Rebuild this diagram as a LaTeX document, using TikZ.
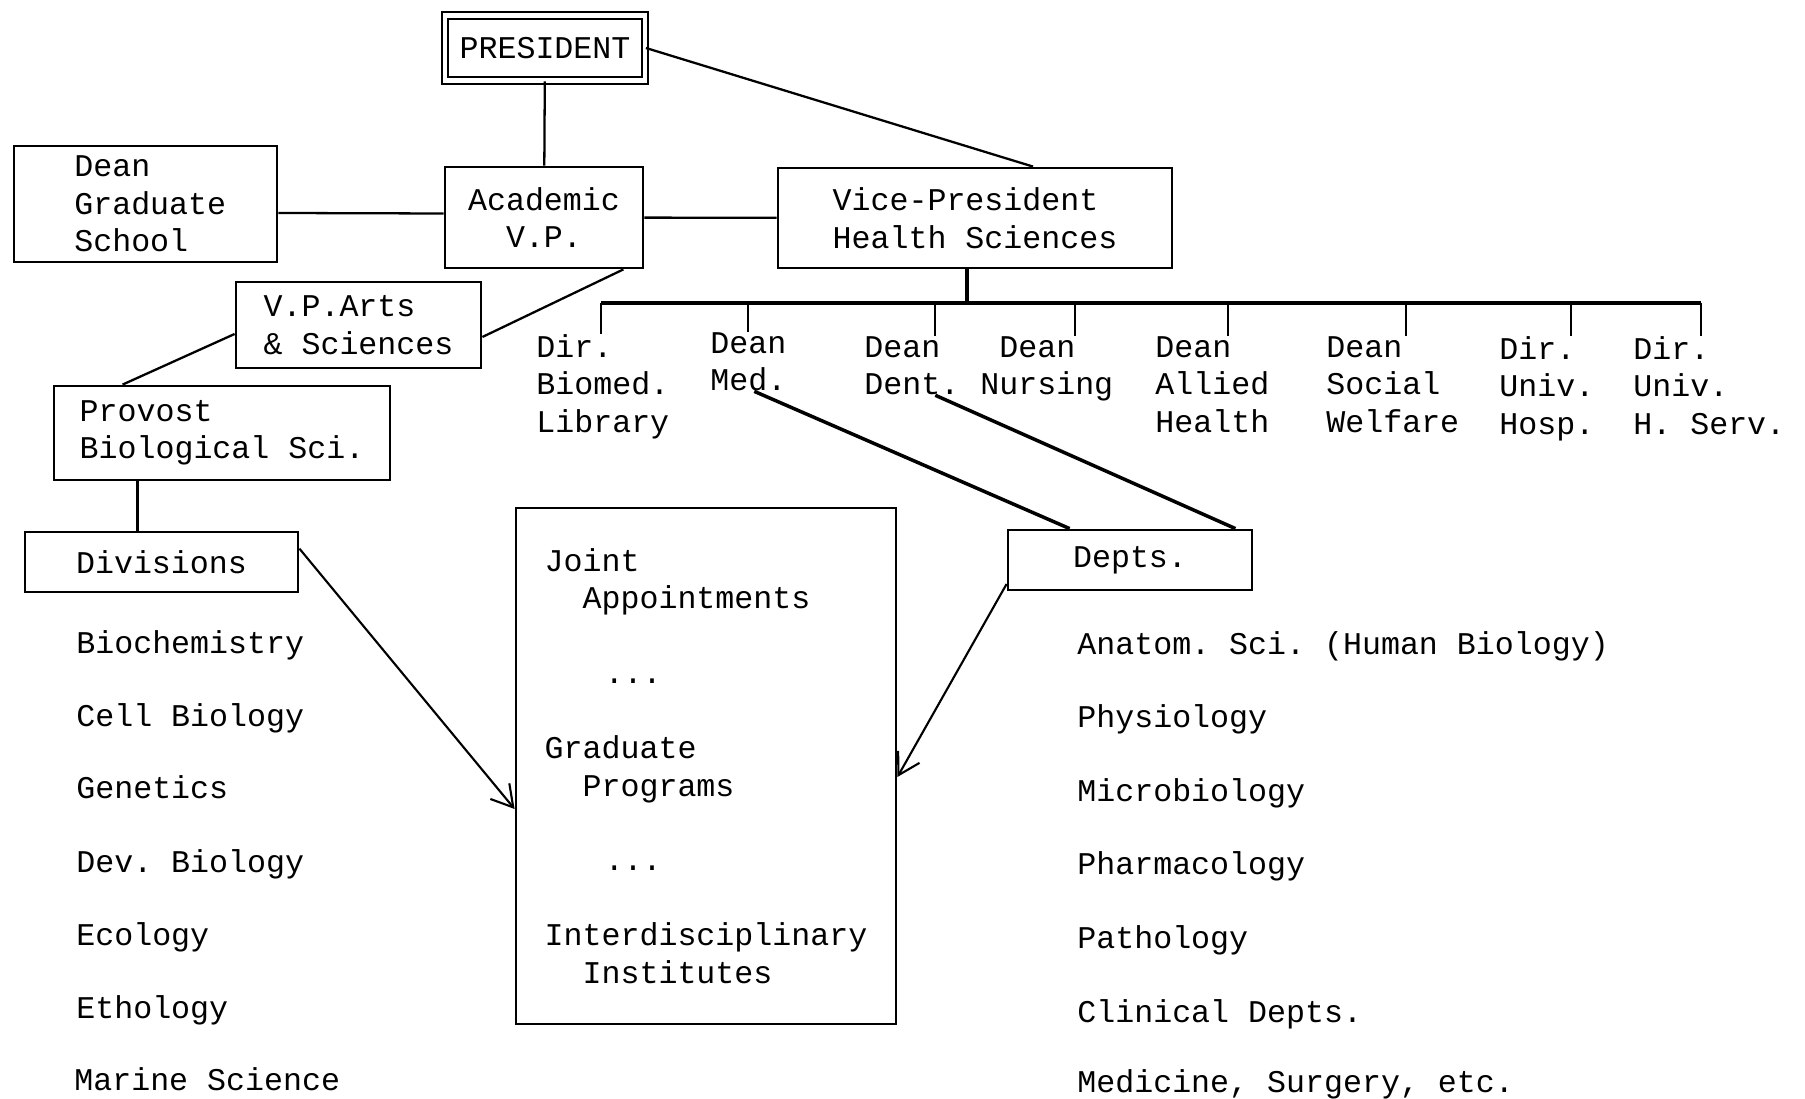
\documentclass[tikz,border=0pt]{standalone}
\usepackage{fontspec}
\setmainfont{Liberation Mono}
\usepackage{tikz}
\usetikzlibrary{arrows.meta, positioning, calc}

\newcommand{\ind}{\hspace*{1.2em}}
\frenchspacing

\begin{document}
\begin{tikzpicture}[
    office/.style={rectangle, draw, line width=1.6pt, inner sep=0pt, align=left},
    entry/.style={anchor=north west, inner sep=0pt, align=left},
    link/.style={line width=1.3pt},
    heavy/.style={line width=2pt},
    arrow/.style={-{Straight Barb[length=12pt,width=14pt]}, line width=1.2pt},
    font=\fontsize{18}{21.3}\selectfont
]
    \useasboundingbox (0,0) rectangle (36.1,-21.98);

    % offices
    \node[office, double, line width=1.1pt, double distance=2.5pt, minimum width=4cm, minimum height=1.3cm] (pres) at (10.9,-0.96) {PRESIDENT};
    \node[office, minimum width=5.26cm, minimum height=2.32cm] (dgs) at (2.91,-4.08) {\hspace*{0.3em}Dean\\\hspace*{0.3em}Graduate\\\hspace*{0.3em}School};
    \node[office, align=center, minimum width=3.96cm, minimum height=2.02cm] (avp) at (10.88,-4.35) {Academic\\V.P.};
    \node[office, minimum width=7.88cm, minimum height=2cm] (vph) at (19.5,-4.36) {Vice-President\\Health Sciences};
    \node[office, minimum width=4.9cm, minimum height=1.72cm] (vpas) at (7.17,-6.5) {V.P.Arts\\\& Sciences};
    \node[office, minimum width=6.72cm, minimum height=1.88cm] (pbs) at (4.44,-8.66) {Provost\\Biological Sci.};
    \node[office, minimum width=5.46cm, minimum height=1.2cm] (div) at (3.23,-11.24) {Divisions};
    \node[office, minimum width=4.88cm, minimum height=1.2cm] (depts) at (22.6,-11.2) {Depts.};
    \node[office, minimum width=7.6cm, minimum height=10.32cm] (joint) at (14.12,-15.32)
        {Joint\\\ind Appointments\\[21.3pt]\hspace*{1.9em}...\\[21.3pt]Graduate\\\ind Programs\\[21.3pt]\hspace*{1.9em}...\\[21.3pt]Interdisciplinary\\\ind Institutes};

    % health sciences units
    \node[entry] (lib) at (10.72,-6.68) {Dir.\\Biomed.\\Library};
    \node[entry] (med) at (14.2,-6.64) {Dean\\Med.};
    \node[entry] (dent) at (17.28,-6.72) {Dean\\Dent.};
    \node[entry] (nurs) at (19.6,-6.72) {\hspace*{0.6em}Dean\\Nursing};
    \node[entry] (allied) at (23.1,-6.72) {Dean\\Allied\\Health};
    \node[entry] (social) at (26.52,-6.72) {Dean\\Social\\Welfare};
    \node[entry] (hosp) at (29.98,-6.72) {Dir.\\Univ.\\Hosp.};
    \node[entry] (hserv) at (32.66,-6.72) {Dir.\\Univ.\\H. Serv.};

    % divisions
    \node[entry] (biochem) at (1.52,-12.6) {Biochemistry};
    \node[entry] (cell) at (1.52,-14.06) {Cell Biology};
    \node[entry] (genet) at (1.52,-15.5) {Genetics};
    \node[entry] (devbio) at (1.52,-16.98) {Dev. Biology};
    \node[entry] (ecol) at (1.52,-18.44) {Ecology};
    \node[entry] (ethol) at (1.52,-19.9) {Ethology};
    \node[entry] (marine) at (1.48,-21.34) {Marine Science};

    % departments
    \node[entry] (anat) at (21.54,-12.62) {Anatom. Sci. (Human Biology)};
    \node[entry] (physio) at (21.54,-14.08) {Physiology};
    \node[entry] (micro) at (21.54,-15.56) {Microbiology};
    \node[entry] (pharm) at (21.54,-17.02) {Pharmacology};
    \node[entry] (path) at (21.54,-18.5) {Pathology};
    \node[entry] (clin) at (21.54,-19.98) {Clinical Depts.};
    \node[entry] (medsurg) at (21.54,-21.38) {Medicine, Surgery, etc.};

    % bus under the health sciences
    \coordinate (hub) at (19.34,-6.06);
    \coordinate (b1) at (12.02,-6.06);
    \coordinate (b2) at (14.96,-6.06);
    \coordinate (b3) at (18.7,-6.06);
    \coordinate (b4) at (21.5,-6.06);
    \coordinate (b5) at (24.56,-6.06);
    \coordinate (b6) at (28.12,-6.06);
    \coordinate (b7) at (31.42,-6.06);
    \coordinate (b8) at (34.02,-6.06);

    \draw[link] (pres) -- (avp);
    \draw[link] (pres.east) -- ([xshift=1.16cm]vph.north);
    \draw[link] ([yshift=-0.18cm]dgs.east) -- ([yshift=0.08cm]avp.west);
    \draw[link] (avp) -- (vph);
    \draw[link] ([xshift=-0.42cm]avp.south east) -- ([yshift=-0.24cm]vpas.east);
    \draw[link] ([yshift=-0.18cm]vpas.west) -- ([xshift=1.4cm]pbs.north west);
    \draw[link] ([xshift=1.7cm]pbs.south west) -- ([xshift=1.7cm]pbs.south west |- div.north);

    \draw[heavy] (hub |- vph.south) -- (hub);
    \draw[heavy] (b1) -- (b8);
    \draw[link] (b1) -- (b1 |- lib.north);
    \draw[link] (b2) -- (b2 |- med.north);
    \draw[link] (b3) -- (b3 |- dent.north);
    \draw[link] (b4) -- (b4 |- nurs.north);
    \draw[link] (b5) -- (b5 |- allied.north);
    \draw[link] (b6) -- (b6 |- social.north);
    \draw[link] (b7) -- (b7 |- hosp.north);
    \draw[link] (b8) -- (b8 |- hserv.north);

    \draw[heavy] ([xshift=0.12cm]med.south) -- ([xshift=1.26cm]depts.north west);
    \draw[heavy] ([xshift=0.47cm]dent.south) -- ([xshift=-0.36cm]depts.north east);

    \draw[arrow] ([yshift=-0.36cm]div.north east) -- ([yshift=-0.86cm]joint.west);
    \draw[arrow] ([yshift=-0.48cm]depts.west) -- ([yshift=-0.22cm]joint.east);
\end{tikzpicture}
\end{document}
